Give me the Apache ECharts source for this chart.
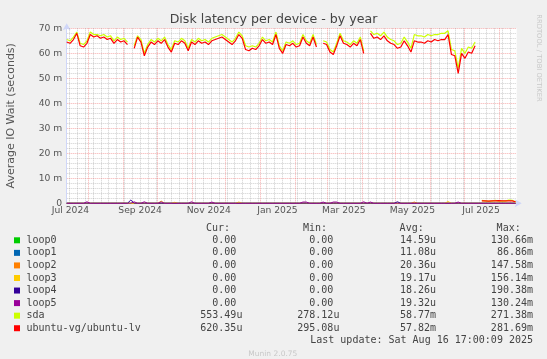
<!DOCTYPE html>
<html><head><meta charset="utf-8">
<script src="https://cdn.jsdelivr.net/npm/echarts@6/dist/echarts.min.js"></script>
<style>html,body{margin:0;padding:0;background:#F0F0F0;}#c{width:547px;height:359px;}</style>
</head><body><div id="c"></div>
<script>
// ---- data ----
const startTime = Date.UTC(2024, 6, 12, 17, 0, 0);
const endTime = Date.UTC(2025, 7, 16, 17, 0, 0);
const stepDays = 3;

const lvValues = [64.5, 64, 65.5, 68, 63, 62.5, 64, 67.5, 66.5, 67,
 66, 66.5, 65.5, 66, 64, 65.5, 64.5, 65, 63.5, null,
 62, 66.5, 64.5, 59, 62.5, 64.5, 63.5, 65, 64, 65.5,
 62.5, 60.5, 64, 63.5, 65, 64, 61, 64.5, 63.5, 65,
 64, 64.5, 63.5, 65, 65.5, 66, 66.5, 65.5, 64.5, 63.5,
 65, 67.5, 66, 61.5, 61, 62, 61.5, 63, 65.5, 64,
 64.5, 63.5, 67.5, 62, 60, 63.5, 63, 64, 62.5, 63,
 66.5, 64, 63, 66.5, 62.5, null, 64, 63.5, 60.5, 59.5,
 63, 67, 64, 63.5, 62.5, 64, 63, 65.5, 60, null,
 68, 66, 66.5, 65.5, 67, 65, 64, 63.5, 62, 62.5,
 65, 63, 60.5, 65, 64.5, 64.5, 64, 65, 64.5, 65.5,
 65, 65.5, 65.5, 67.5, 59.5, 59, 52, 60, 58, 60.5,
 60, 63,
 null, 0.95, 1.0, 0.9, 1.0, 0.95, 1.05, 0.95, 1.0, 0.95, 1.0, 0.62];

const sdaValues = [65.5, 65, 66.5, 68.5, 64, 63.5, 65, 68.5, 67.5, 67.5,
 67, 67.5, 66.5, 67, 65, 66.5, 65.5, 66, 64.5, null,
 63, 67, 65.5, 60, 63.5, 65.5, 64.5, 66, 65, 66.5,
 63.5, 61.5, 65, 64.5, 66, 65, 62, 65.5, 64.5, 66,
 65, 65.5, 64.5, 66, 66.5, 67, 67.5, 66.5, 65.5, 64.5,
 66, 68.5, 67, 63, 62.5, 63, 62.5, 64, 66.5, 65,
 65.5, 64.5, 68.5, 63, 61, 64.5, 64, 65, 63.5, 64,
 67.5, 65, 64, 67.5, 63.5, null, 65, 64.5, 61.5, 60.5,
 64, 68, 65, 64.5, 63.5, 65, 64, 66.5, 61, null,
 69, 67.5, 68, 67, 68.5, 66.5, 65.5, 65, 63.5, 64,
 66.5, 64.5, 62, 67.5, 67, 67, 66.5, 67.5, 67, 67.5,
 67.5, 68, 68, 69, 61.5, 61, 54, 62, 60, 62.5,
 62, 64.5,
 null, 1.2, 0.9, 0.85, 0.9, 1.2, 0.9, 0.85, 0.9, 1.25, 1.2, 0.55];

// loop devices: zero except for these sample indices
const loop0Spikes = {};
const loop1Spikes = {};
const loop2Spikes = {103: 0.5};
const loop3Spikes = {28: 0.9, 32: 0.4, 51: 0.5, 113: 0.7};
const loop4Spikes = {19: 1.3, 98: 0.6};
const loop5Spikes = {6: 0.6, 20: 0.6, 23: 0.6, 28: 0.6, 37: 0.6, 43: 0.5, 70: 0.5, 71: 0.5, 76: 0.5, 79: 0.5, 80: 0.5, 88: 0.6, 90: 0.5, 116: 0.5};

const seriesNames = ['loop0', 'loop1', 'loop2', 'loop3', 'loop4', 'loop5', 'sda', 'ubuntu-vg/ubuntu-lv'];
const curVals = ['0.00', '0.00', '0.00', '0.00', '0.00', '0.00', '553.49u', '620.35u'];
const minVals = ['0.00', '0.00', '0.00', '0.00', '0.00', '0.00', '278.12u', '295.08u'];
const avgVals = ['14.59u', '11.08u', '20.36u', '19.17u', '18.26u', '19.32u', '58.77m', '57.82m'];
const maxVals = ['130.66m', '86.86m', '147.58m', '156.14m', '190.38m', '130.24m', '271.38m', '281.69m'];

const yTicks = [0, 10, 20, 30, 40, 50, 60, 70];
const monthLabels = ['Jul 2024', 'Sep 2024', 'Nov 2024', 'Jan 2025', 'Mar 2025', 'May 2025', 'Jul 2025'];
const monthLabelDates = [[2024, 6], [2024, 8], [2024, 10], [2025, 0], [2025, 2], [2025, 4], [2025, 6]];
const lastUpdate = 'Last update: Sat Aug 16 17:00:09 2025';

// ---- styles ----
const seriesColors = ['#00CC00', '#0066B3', '#FF8000', '#FFCC00', '#330099', '#990099', '#CCFF00', '#FF0000'];
const DAY = 86400000;
const times = lvValues.map((_, i) => startTime + i * stepDays * DAY);
function pairs(vals) { return vals.map((v, i) => [times[i], v]); }
function expand(sp) { return times.map((t, i) => [t, sp[i] !== undefined ? sp[i] : 0]); }
const seriesData = [expand(loop0Spikes), expand(loop1Spikes), expand(loop2Spikes), expand(loop3Spikes),
  expand(loop4Spikes), expand(loop5Spikes), pairs(sdaValues), pairs(lvValues)];

const minorGridColor = 'rgba(140,140,140,0.42)';
const majorGridColor = 'rgba(240,120,120,0.6)';
// vertical grid lines (months major, weeks minor)
const gridItems = [];
for (let t = Date.UTC(2024, 6, 15); t < endTime; t += 7 * DAY) {
  gridItems.push({xAxis: t, lineStyle: {color: minorGridColor, type: [1, 1], width: 1}});
}
for (let k = 0; k < 13; k++) {
  const y = 2024 + Math.floor((7 + k) / 12), m = (7 + k) % 12;
  gridItems.push({xAxis: Date.UTC(y, m, 1), lineStyle: {color: majorGridColor, type: [1, 1], width: 1}});
}
const labelItems = monthLabelDates.map((d, i) => ({xAxis: Date.UTC(d[0], d[1], 16),
  lineStyle: {color: 'rgba(0,0,0,0)', width: 1},
  label: {show: true, position: 'start', distance: 3, formatter: monthLabels[i],
    color: '#555', fontFamily: 'DejaVu Sans', fontSize: 9.2}}));

const series = seriesNames.map((n, i) => ({
  name: n, type: 'line', data: seriesData[i], showSymbol: false, symbol: 'none',
  connectNulls: false, animation: false, z: 3 + i,
  lineStyle: {color: seriesColors[i], width: i >= 6 ? 1.2 : 1}, itemStyle: {color: seriesColors[i]}
}));
series[0].markLine = {silent: true, symbol: ['none', 'none'], z: 1, animation: false,
  label: {show: false}, data: gridItems};
series[1].markLine = {silent: true, symbol: ['none', 'none'], z: 1, animation: false,
  label: {show: true}, data: labelItems};

// legend graphics
const mono = '10px "DejaVu Sans Mono"';
const legendColor = '#444';
const graphics = [];
const colEdges = [242.4, 339.4, 436, 533];
const headers = ['Cur:', 'Min:', 'Avg:', 'Max:'];
headers.forEach((h, j) => graphics.push({type: 'text', x: colEdges[j] - 12.3, y: 228.5,
  style: {text: h, font: mono, fill: legendColor, align: 'right', verticalAlign: 'middle'}}));
const cols = [curVals, minVals, avgVals, maxVals];
seriesNames.forEach((n, i) => {
  const y = 240.3 + i * 12.56;
  graphics.push({type: 'rect', shape: {x: 14, y: y - 3, width: 6, height: 6}, style: {fill: seriesColors[i]}});
  graphics.push({type: 'text', x: 26.5, y: y, style: {text: n, font: mono, fill: legendColor, verticalAlign: 'middle'}});
  cols.forEach((c, j) => {
    const v = c[i];
    const hasUnit = /[a-z]$/i.test(v);
    graphics.push({type: 'text', x: colEdges[j] - (hasUnit ? 0 : 6.02), y: y,
      style: {text: v, font: mono, fill: legendColor, align: 'right', verticalAlign: 'middle'}});
  });
});
graphics.push({type: 'text', x: 533, y: 340.5, style: {text: lastUpdate, font: mono, fill: legendColor, align: 'right', verticalAlign: 'middle'}});
graphics.push({type: 'text', x: 272.8, y: 354, style: {text: 'Munin 2.0.75', font: '7.5px "DejaVu Sans"', fill: '#c8c8c8', align: 'center', verticalAlign: 'middle'}});
graphics.push({type: 'text', x: 538.5, y: 58, rotation: -Math.PI / 2,
  style: {text: 'RRDTOOL / TOBI OETIKER', font: '6.8px "DejaVu Sans"', fill: '#c8c8c8', align: 'center', verticalAlign: 'middle'}});
graphics.push({type: 'text', x: 11, y: 115.8, rotation: Math.PI / 2,
  style: {text: 'Average IO Wait (seconds)', font: '11px "DejaVu Sans"', fill: '#555', align: 'center', verticalAlign: 'middle'}});
graphics.push({type: 'text', x: 273.5, y: 19.5,
  style: {text: 'Disk latency per device - by year', font: '12.6px "DejaVu Sans"', fill: '#444', align: 'center', verticalAlign: 'middle'}});

const chart = echarts.init(document.getElementById('c'), null, {renderer: 'canvas', width: 547, height: 359});
chart.setOption({
  backgroundColor: '#F0F0F0',
  animation: false,
  grid: {left: 66.7, right: 30.3, top: 28.3, bottom: 155.7, show: true, backgroundColor: '#FFFFFF', borderWidth: 0},
  xAxis: {type: 'time', min: startTime, max: endTime, useUTC: true,
    axisLabel: {show: false}, axisTick: {show: false}, splitLine: {show: false},
    axisLine: {show: true, lineStyle: {color: '#CFD6F8', width: 1}, symbol: ['none', 'arrow'], symbolSize: [6, 7], symbolOffset: [0, 5]}},
  yAxis: {type: 'value', min: yTicks[0], max: yTicks[yTicks.length - 1], interval: 10,
    axisLine: {show: true, lineStyle: {color: '#CFD6F8', width: 1}, symbol: ['none', 'arrow'], symbolSize: [6, 7], symbolOffset: [0, 5]},
    axisTick: {show: false},
    axisLabel: {color: '#555', fontFamily: 'DejaVu Sans', fontSize: 9.2, margin: 4.5,
      formatter: v => v === 0 ? '0' : v + ' m'},
    splitLine: {show: true, lineStyle: {color: majorGridColor, type: [1, 1], width: 1}},
    minorTick: {show: false, splitNumber: 5},
    minorSplitLine: {show: true, lineStyle: {color: minorGridColor, type: [1, 1], width: 1}}},
  series: series,
  graphic: graphics
});
</script></body></html>
